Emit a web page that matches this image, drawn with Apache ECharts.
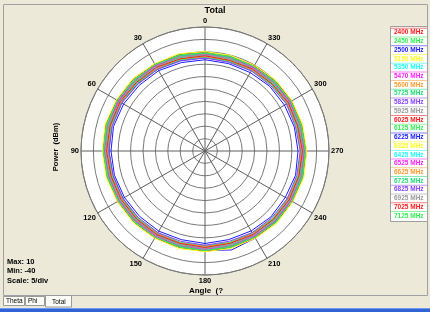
<!DOCTYPE html>
<html>
<head>
<meta charset="utf-8">
<script src="https://cdn.jsdelivr.net/npm/echarts@6/dist/echarts.min.js"></script>
<style>
  html, body { margin: 0; padding: 0; background: #ECE9D8; }
  #chart { width: 430px; height: 312px; }
</style>
</head>
<body>
<div id="chart"></div>
<script>
// frequencies (legend entries)
const freqs = ['2400 MHz', '2450 MHz', '2500 MHz', '5150 MHz', '5350 MHz', '5470 MHz', '5600 MHz',
  '5725 MHz', '5825 MHz', '5925 MHz', '6025 MHz', '6125 MHz', '6225 MHz', '6325 MHz', '6425 MHz',
  '6525 MHz', '6625 MHz', '6725 MHz', '6825 MHz', '6925 MHz', '7025 MHz', '7125 MHz'];
const colors = ['#ff1a1a', '#33ee55', '#1a1aff', '#ffff22', '#22ffff', '#ff22ff', '#ff9a33',
  '#22dd77', '#8844ff', '#9a9a9a', '#ff1a1a', '#33ee55', '#1a1aff', '#ffff22', '#22ffff',
  '#ff22ff', '#ff9a33', '#22dd77', '#8844ff', '#9a9a9a', '#ff1a1a', '#33ee55'];

// measured angles (deg)
const angles = [0, 15, 30, 45, 60, 75, 90, 105, 120, 135, 150, 165, 180, 195, 210, 225, 240, 255, 270, 285, 300, 315, 330, 345];

// total power (dBm) for each frequency, one value per angle
const p2400 = [-0.9, -0.8, -0.2, -0.3, 0.4, 0.3, 0.5, -0.1, -0.2, -0.4, -0.3, -0.7, -0.4, -0.7, -0.3, -0.3, 0.0, -0.1, 0.1, -0.5, -0.4, -1.0, -1.1, -1.4];
const p2450 = [-1.6, -1.1, -0.8, -0.7, -0.1, -0.2, -0.1, -0.6, -0.7, -1.0, -0.9, -1.2, -0.9, -1.2, -1.1, -0.6, -0.8, -0.4, -0.7, -0.9, -1.2, -1.3, -1.8, -1.7];
const p2500 = [-2.4, -2.2, -1.9, -1.6, -1.2, -1.0, -1.3, -1.5, -1.8, -1.6, -1.4, -0.8, 0.2, 1.3, 0.6, 0.3, 0.0, -0.2, -0.5, -1.2, -1.6, -2.0, -2.5, -2.6];
const p5150 = [-0.5, -0.2, 0.3, 0.4, 0.9, 1.0, 0.8, 0.7, 0.2, 0.4, 0.0, 0.1, 0.2, -0.1, 0.2, 0.5, 0.3, 0.7, 0.4, 0.2, -0.1, -0.2, -0.6, -0.8];
const p5350 = [-1.7, -1.6, -1.1, -1.0, -0.5, -0.5, -0.4, -0.9, -1.1, -1.0, -1.4, -1.3, -1.4, -1.3, -1.2, -1.1, -0.9, -0.8, -0.9, -1.4, -1.3, -1.8, -2.0, -2.1];
const p5470 = [-0.9, -0.4, -0.3, 0.2, 0.3, 0.7, 0.5, 0.2, -0.2, 0.0, -0.4, -0.3, -0.4, -0.3, -0.4, 0.1, -0.1, 0.3, 0.2, -0.4, -0.3, -0.8, -1.0, -1.0];
const p5600 = [-2.2, -1.8, -1.7, -1.2, -1.0, -0.9, -0.8, -1.3, -1.4, -1.6, -1.7, -1.7, -1.8, -1.7, -1.7, -1.5, -1.3, -1.3, -1.2, -1.8, -1.7, -2.2, -2.4, -2.4];
const p5725 = [-1.2, -1.1, -0.6, -0.5, 0.0, -0.1, 0.2, -0.4, -0.5, -0.7, -0.7, -1.0, -0.7, -1.0, -0.7, -0.6, -0.4, -0.4, -0.3, -0.9, -0.8, -1.3, -1.4, -1.7];
const p5825 = [-2.0, -1.6, -1.5, -1.0, -0.9, -0.5, -0.8, -0.9, -1.4, -1.2, -1.6, -1.5, -1.6, -1.5, -1.6, -1.1, -1.3, -0.9, -1.2, -1.4, -1.7, -1.8, -2.3, -2.2];
const p5925 = [-1.1, -0.7, -0.6, -0.1, 0.0, 0.4, 0.1, -0.2, -0.3, -0.5, -0.5, -0.8, -0.5, -0.8, -0.5, -0.4, -0.2, 0.0, -0.3, -0.5, -0.8, -0.9, -1.4, -1.3];
const p6025 = [-0.2, 0.3, 0.4, 0.9, 1.0, 1.4, 1.2, 0.8, 0.7, 0.5, 0.5, 0.2, 0.5, 0.2, 0.5, 0.6, 0.8, 0.8, 0.9, 0.4, 0.4, -0.1, -0.2, -0.5];
const p6125 = [-2.3, -1.9, -1.8, -1.3, -1.2, -0.8, -1.1, -1.2, -1.7, -1.5, -1.9, -1.8, -1.9, -1.8, -1.9, -1.4, -1.6, -1.2, -1.5, -1.7, -2.0, -2.1, -2.6, -2.5];
const p6225 = [-3.2, -3.1, -2.6, -2.5, -2.1, -1.8, -2.1, -2.2, -2.5, -2.7, -2.7, -3.0, -2.7, -3.0, -2.8, -2.4, -2.6, -2.2, -2.5, -2.7, -3.0, -3.1, -3.5, -3.5];
const p6325 = [0.1, 0.6, 0.7, 1.2, 1.3, 1.7, 1.4, 1.3, 0.8, 1.0, 0.6, 0.7, 0.6, 0.7, 0.6, 1.1, 0.9, 1.3, 1.0, 0.8, 0.5, 0.4, -0.1, -0.1];
const p6425 = [-1.5, -1.4, -0.9, -0.8, -0.3, -0.3, -0.2, -0.7, -0.8, -1.0, -1.0, -1.3, -1.0, -1.3, -1.0, -0.9, -0.7, -0.7, -0.6, -1.2, -1.1, -1.6, -1.7, -2.0];
const p6525 = [-0.8, -0.3, -0.2, 0.3, 0.4, 0.8, 0.7, 0.2, 0.1, -0.1, -0.3, -0.2, -0.3, -0.2, -0.3, 0.2, 0.0, 0.4, 0.1, -0.1, -0.4, -0.5, -1.0, -0.9];
const p6625 = [-1.9, -1.5, -1.4, -0.9, -0.7, -0.4, -0.7, -0.8, -1.3, -1.1, -1.5, -1.4, -1.5, -1.4, -1.5, -1.0, -1.2, -0.8, -1.1, -1.3, -1.6, -1.7, -2.2, -2.1];
const p6725 = [-0.6, -0.3, 0.2, 0.3, 0.8, 0.8, 0.9, 0.4, 0.3, 0.1, 0.1, -0.2, 0.1, -0.2, 0.1, 0.2, 0.4, 0.4, 0.5, -0.1, 0.0, -0.5, -0.6, -0.9];
const p6825 = [-2.5, -2.4, -1.9, -1.8, -1.3, -1.3, -1.2, -1.7, -1.8, -2.0, -2.0, -2.3, -2.0, -2.3, -2.0, -1.9, -1.7, -1.7, -1.6, -2.2, -2.1, -2.6, -2.7, -3.0];
const p6925 = [-1.3, -0.8, -0.7, -0.2, -0.1, 0.3, 0.2, -0.3, -0.4, -0.6, -0.8, -0.7, -0.8, -0.7, -0.8, -0.3, -0.5, -0.1, -0.4, -0.6, -0.9, -1.0, -1.5, -1.4];
const p7025 = [-1.6, -1.5, -1.0, -0.9, -0.4, -0.4, -0.3, -0.8, -0.9, -1.1, -1.1, -1.4, -1.1, -1.4, -1.1, -1.0, -0.8, -0.8, -0.7, -1.3, -1.2, -1.7, -1.8, -2.1];
const p7125 = [-0.4, 0.1, 0.2, 0.7, 0.8, 1.2, 1.0, 0.8, 0.3, 0.5, 0.1, 0.2, 0.1, 0.2, 0.1, 0.6, 0.4, 0.8, 0.5, 0.3, 0.0, -0.1, -0.6, -0.5];

const power = [p2400, p2450, p2500, p5150, p5350, p5470, p5600, p5725, p5825, p5925, p6025,
  p6125, p6225, p6325, p6425, p6525, p6625, p6725, p6825, p6925, p7025, p7125];

// radial scale
const rMin = -40, rMax = 10, rStep = 5;

const font = 'Liberation Sans, Arial, sans-serif';
const chart = echarts.init(document.getElementById('chart'));

const series = freqs.map((name, i) => {
  const pts = angles.map((a, k) => [power[i][k], a]);
  pts.push([power[i][0], 360]); // close the loop
  return {
    name: name,
    type: 'line',
    coordinateSystem: 'polar',
    data: pts,
    showSymbol: false,
    silent: true,
    lineStyle: { width: 1, color: colors[i] },
    itemStyle: { color: colors[i] }
  };
});

// colored sample lines above each legend entry
const legendLines = freqs.map((n, i) => ({
  type: 'rect',
  shape: { x: 391, y: 27.8 + i * 8.72, width: 36, height: 1 },
  style: { fill: colors[i], opacity: 0.55 },
  z: 5
}));

const option = {
  backgroundColor: '#ECE9D8',
  animation: false,
  title: {
    text: 'Total',
    left: 'center',
    top: 1,
    textStyle: { fontFamily: font, fontSize: 9, fontWeight: 'bold', color: '#000' }
  },
  legend: {
    orient: 'vertical',
    left: 389,
    top: 28.3,
    padding: 0,
    itemGap: 0,
    itemWidth: 0,
    itemHeight: 0,
    selectedMode: false,
    data: freqs.map((n, i) => ({ name: n, icon: 'rect', textStyle: { color: colors[i] } })),
    textStyle: { fontFamily: font, fontSize: 6.5, fontWeight: 'bold', lineHeight: 8.72 }
  },
  polar: { center: [205, 151], radius: 124 },
  angleAxis: {
    type: 'value',
    min: 0,
    max: 360,
    interval: 30,
    startAngle: 90,
    clockwise: false,
    axisLine: { lineStyle: { color: '#7a7a7a', width: 1 } },
    axisTick: { show: false },
    splitLine: { show: true, lineStyle: { color: '#5e5e5e', width: 1 } },
    axisLabel: { margin: 2, fontFamily: font, fontSize: 7.5, fontWeight: 'bold', color: '#000' }
  },
  radiusAxis: {
    type: 'value',
    min: rMin,
    max: rMax,
    interval: rStep,
    axisLine: { show: false },
    axisTick: { show: false },
    axisLabel: { show: false },
    splitLine: { show: true, lineStyle: { color: '#7a7a7a', width: 1 } }
  },
  graphic: [
    // panel frame
    { type: 'rect', z: -2, shape: { x: 3.5, y: 4.5, width: 424, height: 291 },
      style: { fill: 'none', stroke: '#a0a0a0', lineWidth: 1 } },
    // white plot disc
    { type: 'circle', z: -2, shape: { cx: 205, cy: 151, r: 124 },
      style: { fill: '#ffffff' } },
    // legend box
    { type: 'rect', shape: { x: 390.5, y: 26.5, width: 37, height: 195 },
      style: { fill: '#ffffff', stroke: '#a0a0a0', lineWidth: 1 }, z: 1 },
    ...legendLines,
    // axis names
    { type: 'text', x: 56, y: 147, rotation: Math.PI / 2,
      style: { text: 'Power  (dBm)', fontFamily: font, fontSize: 7.5, fontWeight: 'bold', fill: '#000',
        align: 'center', verticalAlign: 'middle' } },
    { type: 'text', x: 206, y: 291,
      style: { text: 'Angle  (?', fontFamily: font, fontSize: 8, fontWeight: 'bold', fill: '#000',
        align: 'center', verticalAlign: 'middle' } },
    // scale info
    { type: 'text', x: 7, y: 262,
      style: { text: 'Max: 10', fontFamily: font, fontSize: 7.5, fontWeight: 'bold', fill: '#000', verticalAlign: 'middle' } },
    { type: 'text', x: 7, y: 271,
      style: { text: 'Min: -40', fontFamily: font, fontSize: 7.5, fontWeight: 'bold', fill: '#000', verticalAlign: 'middle' } },
    { type: 'text', x: 7, y: 280.5,
      style: { text: 'Scale: 5/div', fontFamily: font, fontSize: 7.5, fontWeight: 'bold', fill: '#000', verticalAlign: 'middle' } },
    // tabs
    { type: 'rect', shape: { x: 3.5, y: 296.5, width: 21, height: 9 },
      style: { fill: '#fbfbf8', stroke: '#9a9a9a', lineWidth: 1 } },
    { type: 'text', x: 6, y: 301,
      style: { text: 'Theta', fontFamily: font, fontSize: 6.5, fill: '#000', verticalAlign: 'middle' } },
    { type: 'rect', shape: { x: 25.5, y: 296.5, width: 19, height: 9 },
      style: { fill: '#fbfbf8', stroke: '#9a9a9a', lineWidth: 1 } },
    { type: 'text', x: 28, y: 301,
      style: { text: 'Phi', fontFamily: font, fontSize: 6.5, fill: '#000', verticalAlign: 'middle' } },
    { type: 'rect', shape: { x: 45.5, y: 295.5, width: 26, height: 11.5 },
      style: { fill: '#fbfbf8', stroke: '#9a9a9a', lineWidth: 1 } },
    { type: 'text', x: 52, y: 302.5,
      style: { text: 'Total', fontFamily: font, fontSize: 6.5, fill: '#000', verticalAlign: 'middle' } },
    // window bottom bar
    { type: 'rect', shape: { x: 0, y: 308, width: 430, height: 4 },
      style: { fill: '#2f63d6' } },
    { type: 'rect', shape: { x: 0, y: 308, width: 430, height: 1 },
      style: { fill: '#6f9cf0' } }
  ],
  series: series
};

chart.setOption(option);
</script>
</body>
</html>
